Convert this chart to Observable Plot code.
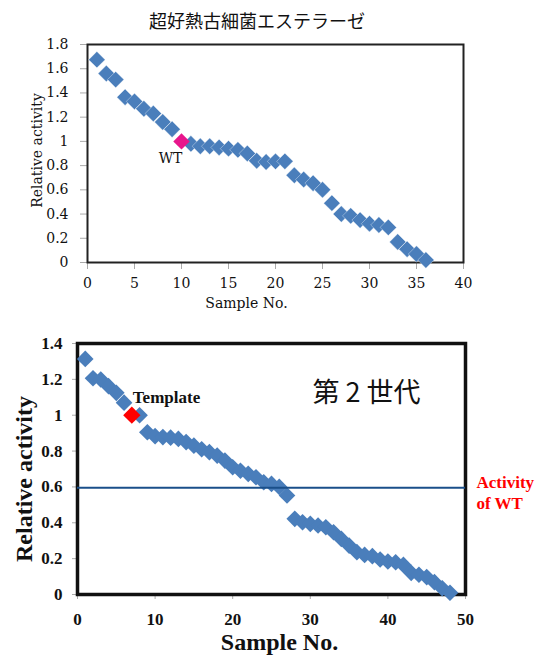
<!DOCTYPE html>
<html><head><meta charset="utf-8">
<script src="https://cdn.jsdelivr.net/npm/d3@7"></script>
<script src="https://cdn.jsdelivr.net/npm/@observablehq/plot@0.6"></script>
<style>
body{margin:0;background:#fff;}
#wrap{position:relative;width:539px;height:656px;overflow:hidden;background:#fff;}
#title{position:absolute;left:257px;top:8px;transform:translateX(-50%);white-space:nowrap;font-family:"Noto Sans CJK JP";font-size:18px;line-height:24px;color:#111;}
#c1{position:absolute;left:0;top:30px;}
#c2{position:absolute;left:0;top:330px;}
svg{overflow:visible;}
#c1 svg text{font-family:"DejaVu Serif","Liberation Serif",serif !important;}
#c2 svg text{font-family:"Liberation Serif","Times New Roman",serif !important;font-weight:bold !important;}
#c2 svg g[font-size="27"] text{font-family:"Noto Sans CJK JP",sans-serif !important;font-weight:normal !important;}
</style></head>
<body><div id="wrap"><div id="title"></div><div id="c1"></div><div id="c2"></div></div>
<script>
// ---------- data: chart 1 ----------
const title1 = "超好熱古細菌エステラーゼ";
const samples1 = [1,2,3,4,5,6,7,8,9,10,11,12,13,14,15,16,17,18,19,20,21,22,23,24,25,26,27,28,29,30,31,32,33,34,35,36];
const activity1 = [1.675,1.56,1.51,1.365,1.33,1.27,1.23,1.16,1.10,1.00,0.98,0.96,0.96,0.95,0.94,0.93,0.90,0.84,0.83,0.835,0.835,0.72,0.685,0.655,0.60,0.49,0.40,0.385,0.35,0.32,0.31,0.29,0.17,0.11,0.07,0.02];
const wtSample1 = 10;
const xTicks1 = [0,5,10,15,20,25,30,35,40];
const yTicks1 = [0,0.2,0.4,0.6,0.8,1,1.2,1.4,1.6,1.8];
const xLabel1 = "Sample No.";
const yLabel1 = "Relative activity";
const wtLabel1 = "WT";

// ---------- data: chart 2 ----------
const samples2 = [1,2,3,4,5,6,7,8,9,10,11,12,13,14,15,16,17,18,19,20,21,22,23,24,25,26,27,28,29,30,31,32,33,34,35,36,37,38,39,40,41,42,43,44,45,46,47,48];
const activity2 = [1.314,1.206,1.199,1.162,1.125,1.07,1.0,1.0,0.905,0.883,0.878,0.875,0.868,0.85,0.83,0.81,0.794,0.775,0.747,0.71,0.69,0.673,0.654,0.626,0.617,0.60,0.552,0.422,0.403,0.394,0.385,0.375,0.347,0.31,0.273,0.236,0.221,0.214,0.195,0.184,0.18,0.165,0.121,0.11,0.097,0.069,0.035,0.01];
const templateSample2 = 7;
const wtLevel2 = 0.595;
const xTicks2 = [0,10,20,30,40,50];
const yTicks2 = [0,0.2,0.4,0.6,0.8,1,1.2,1.4];
const xLabel2 = "Sample No.";
const yLabel2 = "Relative activity";
const templateLabel2 = "Template";
const generationLabel2 = "第 2 世代";
const wtLineLabel2 = "Activity\nof WT";

const blue = "#4a7ebb";
const serif1 = "DejaVu Serif";
const serif2 = "Liberation Serif";

document.getElementById("title").textContent = title1;

// ---------- chart 1 ----------
const rows1 = samples1.map((s, i) => ({sample: s, activity: activity1[i]}));
const normal1 = rows1.filter(d => d.sample !== wtSample1);
const wt1 = rows1.filter(d => d.sample === wtSample1);

const chart1 = Plot.plot({
  width: 539, height: 300,
  marginLeft: 87, marginRight: 76, marginTop: 14, marginBottom: 68,
  style: {fontFamily: serif1, fontSize: "14px", color: "#111", background: "transparent"},
  x: {domain: [0, 40]},
  y: {domain: [0, 1.8]},
  marks: [
    Plot.axisX({ticks: xTicks1, tickSize: 7, tickPadding: 9, stroke: "#aaa", label: null, tickFormat: d => String(d), fontSize: 14, fontFamily: serif1, fill: "#111"}),
    Plot.axisY({ticks: yTicks1, tickSize: 7, tickPadding: 12, stroke: "#aaa", label: null, tickFormat: d => String(d), fontSize: 14, fontFamily: serif1, fill: "#111"}),
    Plot.frame({stroke: "#222", strokeWidth: 2}),
    Plot.dot(normal1, {x: "sample", y: "activity", symbol: "diamond2", r: 7.4, fill: blue, stroke: "#fff", strokeWidth: 0.6, strokeOpacity: 0.6}),
    Plot.dot(wt1, {x: "sample", y: "activity", symbol: "diamond2", r: 7.4, fill: "#e8168c"}),
    Plot.text(wt1, {x: "sample", y: "activity", text: () => wtLabel1, dx: -11, dy: 17, fontSize: 14, fontFamily: serif1, fill: "#111"}),
    Plot.text([xLabel1], {frameAnchor: "bottom", textAnchor: "middle", lineAnchor: "middle", dx: -29, dy: 41, fontSize: 14, fontFamily: serif1, fill: "#111"}),
    Plot.text([yLabel1], {frameAnchor: "left", textAnchor: "middle", lineAnchor: "middle", dx: -50, dy: -3, rotate: -90, fontSize: 14, fontFamily: serif1, fill: "#111"})
  ]
});
document.getElementById("c1").appendChild(chart1);

// ---------- chart 2 ----------
const rows2 = samples2.map((s, i) => ({sample: s, activity: activity2[i]}));
const normal2 = rows2.filter(d => d.sample !== templateSample2);
const tmpl2 = rows2.filter(d => d.sample === templateSample2);

const chart2 = Plot.plot({
  width: 539, height: 326,
  marginLeft: 77, marginRight: 74, marginTop: 13, marginBottom: 62,
  style: {fontFamily: serif2, fontSize: "17px", fontWeight: "bold", color: "#111", background: "transparent"},
  x: {domain: [0, 50]},
  y: {domain: [0, 1.4]},
  marks: [
    Plot.axisX({ticks: xTicks2, tickSize: 5, tickPadding: 13, stroke: "#aaa", label: null, tickFormat: d => String(d), fontSize: 17, fontWeight: "bold", fontFamily: serif2, fill: "#111"}),
    Plot.axisY({ticks: yTicks2, tickSize: 5, tickPadding: 10, stroke: "#aaa", label: null, tickFormat: d => String(d), fontSize: 17, fontWeight: "bold", fontFamily: serif2, fill: "#111"}),
    Plot.frame({stroke: "#111", strokeWidth: 3.5}),
    Plot.dot(normal2, {x: "sample", y: "activity", symbol: "diamond2", r: 7.5, fill: blue}),
    Plot.dot(tmpl2, {x: "sample", y: "activity", symbol: "diamond2", r: 7.8, fill: "#ff0000"}),
    Plot.ruleY([wtLevel2], {stroke: "#1a4f8a", strokeWidth: 2}),
    Plot.text(tmpl2, {x: "sample", y: "activity", text: () => templateLabel2, textAnchor: "start", lineAnchor: "middle", dx: 1, dy: -18, fontSize: 17, fontWeight: "bold", fontFamily: serif2, fill: "#111"}),
    Plot.text([generationLabel2], {frameAnchor: "top-right", textAnchor: "end", lineAnchor: "middle", dx: -45, dy: 50, fontSize: 27, fontWeight: "normal", fontFamily: "Noto Sans CJK JP", fill: "#111"}),
    Plot.text([wtLevel2], {y: d => d, frameAnchor: "right", text: () => wtLineLabel2, textAnchor: "start", lineAnchor: "middle", dx: 11, dy: 4, lineHeight: 1.25, fontSize: 17, fontWeight: "bold", fontFamily: serif2, fill: "#ff0000"}),
    Plot.text([xLabel2], {frameAnchor: "bottom", textAnchor: "middle", lineAnchor: "middle", dx: 8, dy: 48, fontSize: 24, fontWeight: "bold", fontFamily: serif2, fill: "#111"}),
    Plot.text([yLabel2], {frameAnchor: "left", textAnchor: "middle", lineAnchor: "middle", dx: -53, dy: 10, rotate: -90, fontSize: 24, fontWeight: "bold", fontFamily: serif2, fill: "#111"})
  ]
});
document.getElementById("c2").appendChild(chart2);
</script>
</body></html>
